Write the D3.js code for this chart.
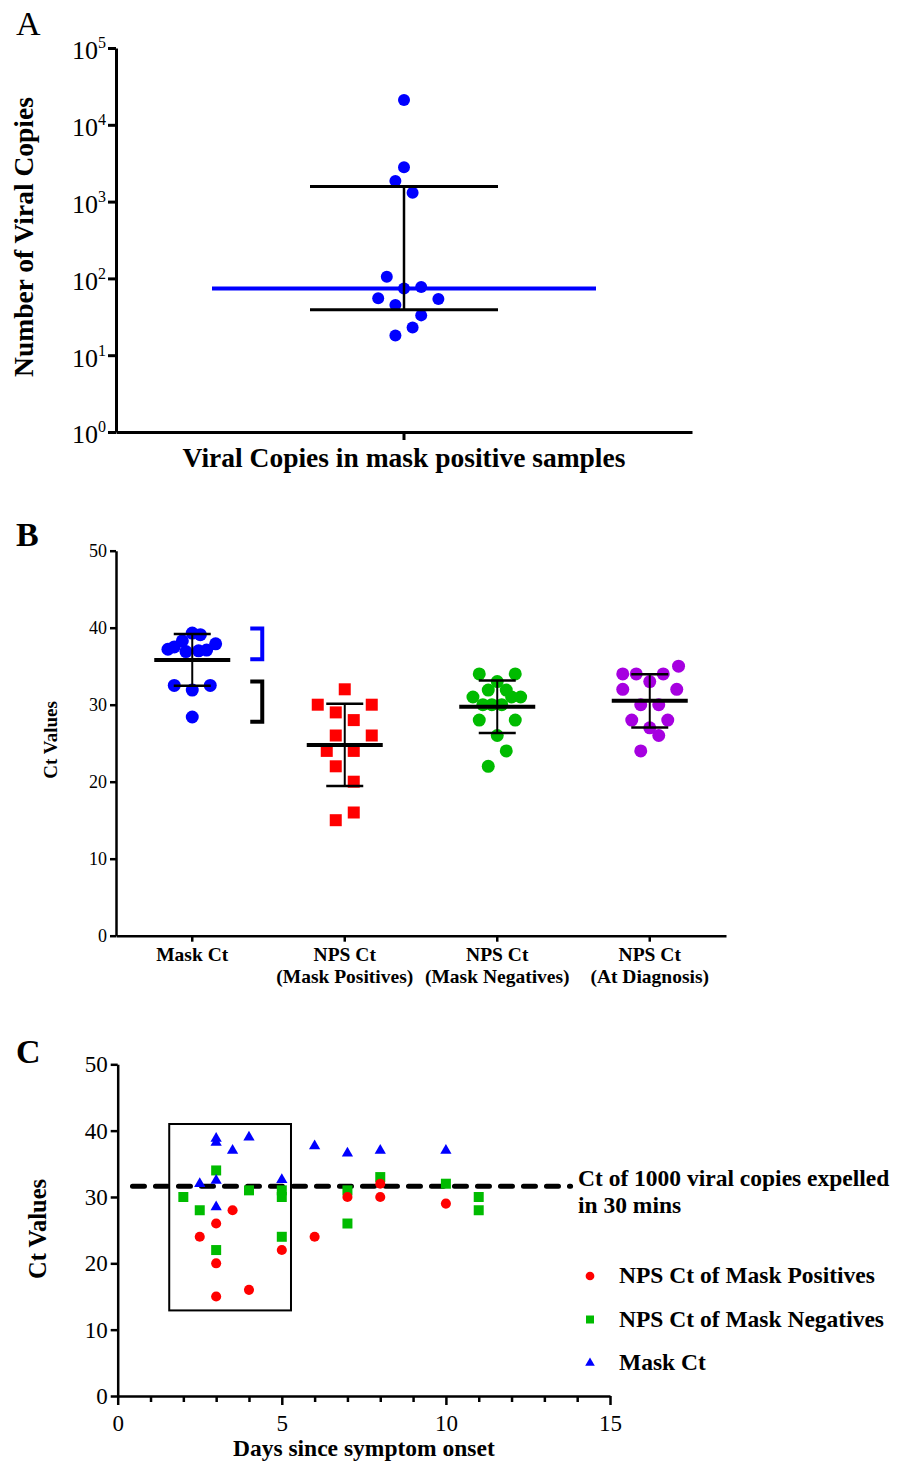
<!DOCTYPE html>
<html>
<head>
<meta charset="utf-8">
<script src="https://cdn.jsdelivr.net/npm/d3@7"></script>
<style>
  body { margin: 0; background: #fff; }
  svg { display: block; font-family: "Liberation Serif", "Times New Roman", serif; }
</style>
</head>
<body>
<div id="chart"></div>
<script>
// ---- Panel A: viral copies in mask positive samples ----
var copyCategory = "Viral Copies in mask positive samples";
var copyValues = [21000, 2800, 1850, 1300, 105, 74, 77, 55, 54, 45, 33, 23, 18];
var copyJitter = [0, 0, -1, 1, -2, 0, 2, -3, 4, -1, 2, 1, -1];
var copyMedian = 74;
var copyRange = [39, 1570];
var copyTicks = [1, 10, 100, 1000, 10000, 100000];

// ---- Panel B: Ct values by group ----
var ctGroups = ["Mask Ct", "NPS Ct|(Mask Positives)", "NPS Ct|(Mask Negatives)", "NPS Ct|(At Diagnosis)"];
var maskCt = [39.3, 39.1, 38.3, 37.9, 37.5, 37.2, 36.9, 37.0, 37.1, 32.5, 31.9, 32.5, 28.4];
var maskCtJitter = [0, 0.9, -1.1, 2.6, -2, -2.7, -0.7, 0.7, 1.6, -2, 0, 2, 0];
var npsPos = [32, 30, 30, 29, 28, 26, 26, 24, 24, 22, 20, 16, 15];
var npsPosJitter = [0, -3, 3, -1, 1, -1, 3, -2, 1, -1, 1, 1, -1];
var npsNeg = [34, 34, 33, 31.9, 31.9, 31, 31, 31, 30, 30, 30, 28, 28, 26, 24, 22];
var npsNegJitter = [-2, 2, 0, -1, 1, -2.7, 1.6, 2.6, -1.6, -0.6, 0.5, -2, 2, 0, 1, -1];
var npsDiag = [34, 34, 34, 35, 33, 32, 32, 30, 30, 28, 28, 27, 26, 24];
var npsDiagJitter = [-3, -1.5, 1.5, 3.2, 0, -3, 3, -1, 1, -2, 2, 0, 1, -1];
var bracketBlue = [35.9, 39.9];
var bracketBlack = [27.8, 33.0];
var ctTicks = [0, 10, 20, 30, 40, 50];

// ---- Panel C: Ct values vs days since onset ----
var posDays = [2.5, 3, 3, 3, 3.5, 4, 5, 6, 7, 8, 8, 10];
var posCt = [24, 26, 20, 15, 28, 16, 22, 24, 30, 32, 30, 29];
var negDays = [2, 2.5, 3, 3, 4, 5, 5, 5, 7, 7, 8, 10, 11, 11];
var negCt = [30, 28, 34, 22, 31, 31, 30, 24, 31, 26, 33, 32, 30, 28];
var maskDays = [2.5, 3, 3, 3, 3, 3.5, 4, 5, 6, 7, 8, 10];
var maskDayCt = [32, 38.8, 38.2, 32.5, 28.5, 37, 39, 32.6, 37.7, 36.6, 37, 37];
var thresholdCt = 31.6;
var thresholdDays = [0.45, 13.8];
var boxDays = [1.57, 5.28];
var boxCt = [12.9, 41];
var dayTicks = d3.range(0, 16);
var legendLabels = ["NPS Ct of Mask Positives", "NPS Ct of Mask Negatives", "Mask Ct"];
var thresholdLabel = ["Ct of 1000 viral copies expelled", "in 30 mins"];

var blue = "#0000ff", red = "#ff0000", green = "#00bb00", purple = "#a600e0";

var svg = d3.select("#chart")
  .append("svg")
  .attr("width", 900)
  .attr("height", 1465);

// axis groups come with their own sans-serif font; drop it so the serif is inherited
function styleAxis(g, w) {
  g.attr("font-family", null).attr("font-size", null);
  g.select(".domain").attr("stroke", "#000").attr("stroke-width", w);
  g.selectAll(".tick line").attr("stroke", "#000").attr("stroke-width", w);
  g.selectAll(".tick text").attr("fill", "#000")
    .style("font-family", "'Liberation Serif', 'Times New Roman', serif");
}

// ================= Panel A =================
var ay = d3.scaleLog().domain([1, 1e5]).range([432, 48]);
var ax = d3.scaleBand().domain([copyCategory]).range([116, 692]);
var aCenter = ax(copyCategory) + ax.bandwidth() / 2;
var aStep = d3.scaleLinear().domain([0, 1]).range([0, 8.6]);

svg.append("text").attr("x", 16).attr("y", 35)
  .attr("font-size", 34).text("A");

var aLeft = svg.append("g")
  .attr("transform", "translate(116,0)")
  .call(d3.axisLeft(ay).tickValues(copyTicks).tickSize(8).tickSizeOuter(0).tickPadding(2));
styleAxis(aLeft, 3);
aLeft.selectAll(".tick text")
  .attr("font-size", 26)
  .attr("dy", "0.42em")
  .each(function(d) {
    var t = d3.select(this).text("10");
    t.append("tspan").attr("dy", -11).attr("font-size", 16).text(Math.round(Math.log10(d)));
  });

var aBottom = svg.append("g")
  .attr("transform", "translate(0,432)")
  .call(d3.axisBottom(ax).tickSize(8).tickSizeOuter(0).tickFormat(""));
styleAxis(aBottom, 3);

svg.append("text")
  .attr("transform", "translate(33,237) rotate(-90)")
  .attr("text-anchor", "middle")
  .attr("font-size", 27.5).attr("font-weight", "bold")
  .text("Number of Viral Copies");

svg.append("text")
  .attr("x", aCenter).attr("y", 467)
  .attr("text-anchor", "middle")
  .attr("font-size", 27.5).attr("font-weight", "bold")
  .text(copyCategory);

svg.append("g").selectAll("circle")
  .data(copyValues)
  .enter()
  .append("circle")
  .attr("cx", (d, i) => aCenter + aStep(copyJitter[i]))
  .attr("cy", d => ay(d))
  .attr("r", 6)
  .attr("fill", blue);

// median line
svg.append("line")
  .attr("x1", aCenter - 192).attr("x2", aCenter + 192)
  .attr("y1", ay(copyMedian)).attr("y2", ay(copyMedian))
  .attr("stroke", blue).attr("stroke-width", 4);
// range bar
svg.append("line")
  .attr("x1", aCenter).attr("x2", aCenter)
  .attr("y1", ay(copyRange[0])).attr("y2", ay(copyRange[1]))
  .attr("stroke", "#000").attr("stroke-width", 2.5);
svg.append("g").selectAll("line")
  .data(copyRange)
  .enter()
  .append("line")
  .attr("x1", aCenter - 94).attr("x2", aCenter + 94)
  .attr("y1", d => ay(d)).attr("y2", d => ay(d))
  .attr("stroke", "#000").attr("stroke-width", 3);

// ================= Panel B =================
var by = d3.scaleLinear().domain([0, 50]).range([935.7, 550.7]);
var bx = d3.scaleBand().domain(ctGroups).range([116, 726]);
var bStep = d3.scaleLinear().domain([0, 1]).range([0, 9]);
function bCenter(g) { return bx(g) + bx.bandwidth() / 2; }

svg.append("text").attr("x", 16).attr("y", 546)
  .attr("font-size", 34).attr("font-weight", "bold").text("B");

var bLeft = svg.append("g")
  .attr("transform", "translate(116,0)")
  .call(d3.axisLeft(by).tickValues(ctTicks).tickSize(6).tickSizeOuter(0).tickPadding(3));
styleAxis(bLeft, 2.5);
bLeft.selectAll(".tick text").attr("font-size", 18);

var bBottom = svg.append("g")
  .attr("transform", "translate(0,935.7)")
  .call(d3.axisBottom(bx).tickSize(6).tickSizeOuter(0).tickFormat(""));
styleAxis(bBottom, 2.5);

ctGroups.forEach(function(g) {
  var t = svg.append("text")
    .attr("text-anchor", "middle")
    .attr("font-size", 19.5).attr("font-weight", "bold");
  g.split("|").forEach(function(line, i) {
    t.append("tspan").attr("x", bCenter(g)).attr("y", 961 + i * 22).text(line);
  });
});

svg.append("text")
  .attr("transform", "translate(57,740) rotate(-90)")
  .attr("text-anchor", "middle")
  .attr("font-size", 19).attr("font-weight", "bold")
  .text("Ct Values");

var bSeries = [
  { group: ctGroups[0], values: maskCt, jitter: maskCtJitter, color: blue, shape: "circle" },
  { group: ctGroups[1], values: npsPos, jitter: npsPosJitter, color: red, shape: "square" },
  { group: ctGroups[2], values: npsNeg, jitter: npsNegJitter, color: green, shape: "circle" },
  { group: ctGroups[3], values: npsDiag, jitter: npsDiagJitter, color: purple, shape: "circle" }
];

bSeries.forEach(function(s) {
  var c = bCenter(s.group);
  var pts = svg.append("g");
  if (s.shape === "circle") {
    pts.selectAll("circle")
      .data(s.values)
      .enter()
      .append("circle")
      .attr("cx", (d, i) => c + bStep(s.jitter[i]))
      .attr("cy", d => by(d))
      .attr("r", 6.5)
      .attr("fill", s.color);
  } else {
    pts.selectAll("rect")
      .data(s.values)
      .enter()
      .append("rect")
      .attr("x", (d, i) => c + bStep(s.jitter[i]) - 6)
      .attr("y", d => by(d) - 6)
      .attr("width", 12).attr("height", 12)
      .attr("fill", s.color);
  }
  // mean with SD
  var m = d3.mean(s.values), sd = d3.deviation(s.values);
  svg.append("line")
    .attr("x1", c).attr("x2", c)
    .attr("y1", by(m - sd)).attr("y2", by(m + sd))
    .attr("stroke", "#000").attr("stroke-width", 2);
  svg.append("g").selectAll("line")
    .data([m - sd, m + sd])
    .enter()
    .append("line")
    .attr("x1", c - 18.5).attr("x2", c + 18.5)
    .attr("y1", d => by(d)).attr("y2", d => by(d))
    .attr("stroke", "#000").attr("stroke-width", 2.5);
  svg.append("line")
    .attr("x1", c - 38).attr("x2", c + 38)
    .attr("y1", by(m)).attr("y2", by(m))
    .attr("stroke", "#000").attr("stroke-width", 4);
});

// brackets beside the mask column
var brX = bCenter(ctGroups[0]) + 70;
[[bracketBlue, blue], [bracketBlack, "#000"]].forEach(function(b) {
  var r = b[0];
  svg.append("path")
    .attr("d", "M" + (brX - 12) + "," + by(r[1]) + "H" + brX + "V" + by(r[0]) + "H" + (brX - 12))
    .attr("fill", "none").attr("stroke", b[1]).attr("stroke-width", 4);
});

// ================= Panel C =================
var cx = d3.scaleLinear().domain([0, 15]).range([117.7, 610]);
var cy = d3.scaleLinear().domain([0, 50]).range([1396, 1064.3]);

svg.append("text").attr("x", 16).attr("y", 1063)
  .attr("font-size", 34).attr("font-weight", "bold").text("C");

var cLeft = svg.append("g")
  .attr("transform", "translate(117.7,0)")
  .call(d3.axisLeft(cy).tickValues(ctTicks).tickSize(7).tickSizeOuter(0).tickPadding(3));
styleAxis(cLeft, 2.5);
cLeft.selectAll(".tick text").attr("font-size", 23);

var cBottom = svg.append("g")
  .attr("transform", "translate(0,1396)")
  .call(d3.axisBottom(cx).tickValues(dayTicks).tickSize(6).tickSizeOuter(0)
    .tickFormat(d => d % 5 === 0 ? d : ""));
styleAxis(cBottom, 2.5);
cBottom.selectAll(".tick line").attr("y2", d => d % 5 === 0 ? 9 : 6);
cBottom.selectAll(".tick text")
  .attr("font-size", 23)
  .attr("y", 19).attr("dy", "0.71em");

svg.append("text")
  .attr("transform", "translate(46,1229) rotate(-90)")
  .attr("text-anchor", "middle")
  .attr("font-size", 24.5).attr("font-weight", "bold")
  .text("Ct Values");

svg.append("text")
  .attr("x", (cx(0) + cx(15)) / 2).attr("y", 1456)
  .attr("text-anchor", "middle")
  .attr("font-size", 23.5).attr("font-weight", "bold")
  .text("Days since symptom onset");

// highlight box
svg.append("rect")
  .attr("x", cx(boxDays[0])).attr("y", cy(boxCt[1]))
  .attr("width", cx(boxDays[1]) - cx(boxDays[0]))
  .attr("height", cy(boxCt[0]) - cy(boxCt[1]))
  .attr("fill", "none").attr("stroke", "#000").attr("stroke-width", 2);

// threshold line
svg.append("line")
  .attr("x1", cx(thresholdDays[0])).attr("x2", cx(thresholdDays[1]))
  .attr("y1", cy(thresholdCt)).attr("y2", cy(thresholdCt))
  .attr("stroke", "#000").attr("stroke-width", 5)
  .attr("stroke-dasharray", "12,11").attr("stroke-linecap", "round");

var square = d3.symbol().type(d3.symbolSquare).size(100);
var circle = d3.symbol().type(d3.symbolCircle).size(80);
var triangle = d3.symbol().type(d3.symbolTriangle).size(55);

svg.append("g").selectAll("path")
  .data(negCt)
  .enter()
  .append("path")
  .attr("d", square)
  .attr("transform", (d, i) => "translate(" + cx(negDays[i]) + "," + cy(d) + ")")
  .attr("fill", green);

svg.append("g").selectAll("path")
  .data(posCt)
  .enter()
  .append("path")
  .attr("d", circle)
  .attr("transform", (d, i) => "translate(" + cx(posDays[i]) + "," + cy(d) + ")")
  .attr("fill", red);

svg.append("g").selectAll("path")
  .data(maskDayCt)
  .enter()
  .append("path")
  .attr("d", triangle)
  .attr("transform", (d, i) => "translate(" + cx(maskDays[i]) + "," + cy(d) + ")")
  .attr("fill", blue);

// threshold annotation
var ann = svg.append("text")
  .attr("font-size", 23.5).attr("font-weight", "bold");
thresholdLabel.forEach(function(line, i) {
  ann.append("tspan").attr("x", 578).attr("y", 1186 + i * 27).text(line);
});

// legend
var legendSymbols = [
  d3.symbol().type(d3.symbolCircle).size(60),
  d3.symbol().type(d3.symbolSquare).size(64),
  d3.symbol().type(d3.symbolTriangle).size(40)
];
var legendColors = [red, green, blue];
var legend = svg.append("g").selectAll("g")
  .data(legendLabels)
  .enter()
  .append("g")
  .attr("transform", (d, i) => "translate(590," + (1276 + i * 43.5) + ")");
legend.append("path")
  .attr("d", (d, i) => legendSymbols[i]())
  .attr("fill", (d, i) => legendColors[i]);
legend.append("text")
  .attr("x", 29).attr("y", 7)
  .attr("font-size", 23.5).attr("font-weight", "bold")
  .text(d => d);
</script>
</body>
</html>
